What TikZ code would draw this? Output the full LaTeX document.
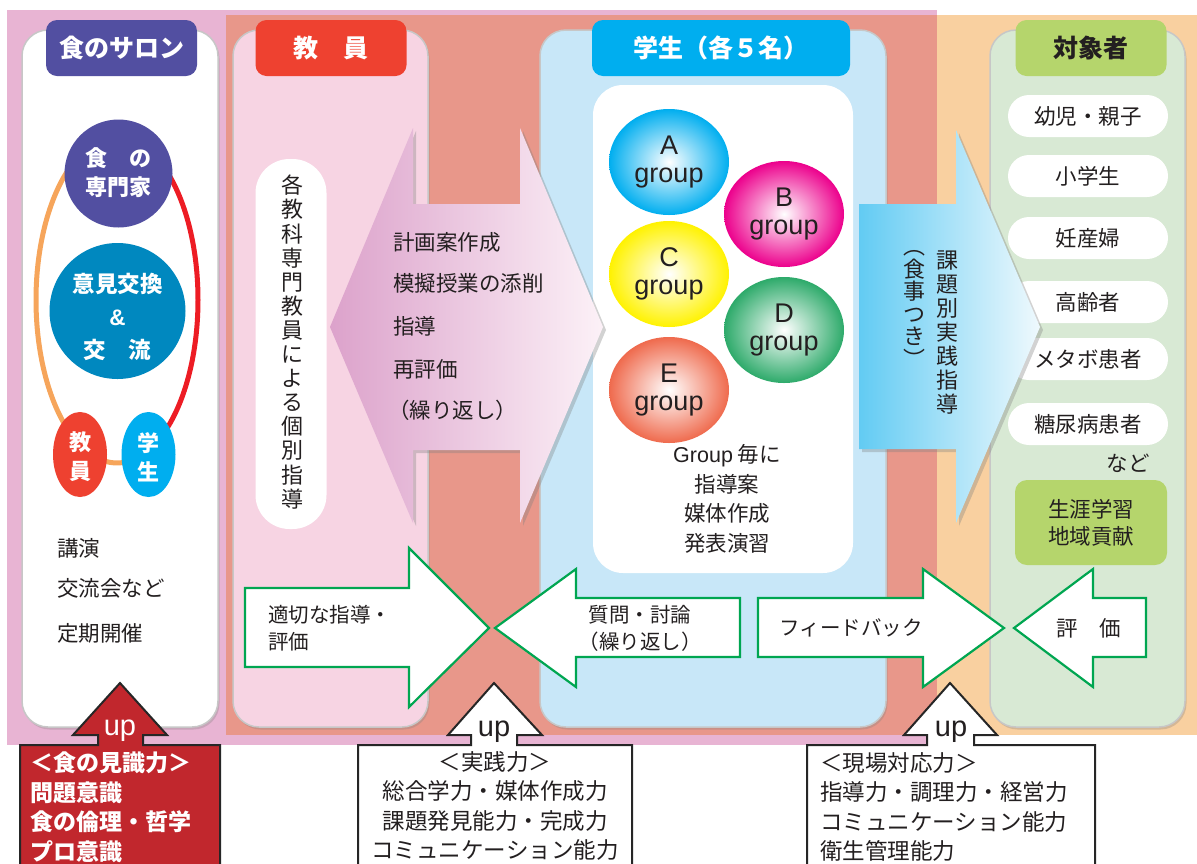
\documentclass[tikz,border=0pt]{standalone}
\usepackage{fontspec}
\setmainfont{Noto Sans CJK JP}
\newfontfamily\latf{Liberation Sans}
\usetikzlibrary{shadows,shapes.geometric}
\definecolor{pinkbg}{HTML}{E8B4D3}
\definecolor{salmon}{HTML}{E8978A}
\definecolor{peach}{HTML}{F9D0A0}
\definecolor{kyoinp}{HTML}{F7D4E3}
\definecolor{gakup}{HTML}{C8E7F8}
\definecolor{taishop}{HTML}{D8E9D4}
\definecolor{salonh}{HTML}{524FA1}
\definecolor{kyoinh}{HTML}{EE4130}
\definecolor{gakuh}{HTML}{00AEEF}
\definecolor{taishoh}{HTML}{B5D56C}
\definecolor{ikenc}{HTML}{0088BF}
\definecolor{orangel}{HTML}{F6A55B}
\definecolor{redl}{HTML}{ED1C24}
\definecolor{grpA}{HTML}{00AEEF}
\definecolor{grpB}{HTML}{EC008C}
\definecolor{grpC}{HTML}{FFF200}
\definecolor{grpD}{HTML}{2DAA6A}
\definecolor{grpE}{HTML}{EF6A4D}
\definecolor{greenl}{HTML}{00A651}
\definecolor{redbox}{HTML}{C1272D}
\definecolor{txt}{HTML}{231F20}
\definecolor{pinkL}{HTML}{DCA2CB}
\definecolor{pinkR}{HTML}{FCF1F7}
\definecolor{blueL}{HTML}{62CBF3}
\definecolor{blueR}{HTML}{EFF9FD}
\begin{document}
\begin{tikzpicture}[x=1pt,y=-1pt,
  panel/.style={rounded corners=26pt, draw=black!22, line width=1.5pt,
    drop shadow={shadow xshift=1.5pt, shadow yshift=-2.5pt, opacity=0.3}, inner sep=0pt},
  hdr/.style={rounded corners=11pt, inner sep=0pt, text=white,
    font=\fontsize{25}{28}\selectfont\bfseries},
  jt/.style={font=\fontsize{21.5}{24}\selectfont, text=txt, inner sep=0pt},
  wt/.style={font=\fontsize{22}{29}\selectfont\bfseries, text=white, inner sep=0pt, align=center},
  pill/.style={rounded corners=21pt, fill=white, minimum width=160pt, minimum height=42pt,
    inner sep=0pt, font=\fontsize{21.5}{24}\selectfont, text=txt},
  grp/.style={ellipse, minimum width=120pt, minimum height=106pt, inner sep=0pt,
    font=\latf\fontsize{27}{28.5}\selectfont, text=txt, align=center, shading=radial, inner color=white},
  garrow/.style={draw=greenl, line width=2.2pt, fill=white},
  ashadow/.style={drop shadow={shadow xshift=3pt, shadow yshift=-3pt, opacity=0.35}},
  upbox/.style={line width=2pt, draw=black!85},
  uptxt/.style={font=\latf\fontsize{29}{29}\selectfont, inner sep=0pt, anchor=base},
  bt/.style={font=\fontsize{22.5}{29.5}\selectfont, inner sep=0pt}
]
\useasboundingbox (0,0) rectangle (1197,863);
\clip (0,0) rectangle (1197,863);

% backgrounds
\fill[pinkbg] (7,10) rectangle (937,745);
\fill[salmon] (226,15) rectangle (937,735);
\fill[peach] (937,15) rectangle (1197,735);

% panels
\node[panel, fill=white, minimum width=196pt, minimum height=697pt] (p1) at (120,378.5) {};
\node[panel, fill=kyoinp, minimum width=195pt, minimum height=697pt] (p2) at (330.5,378.5) {};
\node[panel, fill=gakup, minimum width=346pt, minimum height=697pt] (p3) at (713,378.5) {};
\node[panel, fill=taishop, minimum width=195pt, minimum height=697pt] (p4) at (1087.5,378.5) {};

% headers
\node[hdr, fill=salonh, minimum width=151pt, minimum height=56pt] (h1) at (121.5,48) {食のサロン};
\node[hdr, fill=kyoinh, minimum width=151pt, minimum height=56pt] (h2) at (331,48) {教\hspace{1em}員};
\node[hdr, fill=gakuh, minimum width=258pt, minimum height=56pt] (h3) at (721,48) {学生（各５名）};
\node[hdr, fill=taishoh, minimum width=151pt, minimum height=56pt, text=txt] (h4) at (1091,48) {対象者};

% salon contents
\draw[redl, line width=5pt] (117,137) arc[start angle=-90, end angle=60, x radius=81, y radius=163];
\draw[orangel, line width=5pt] (117,137) arc[start angle=270, end angle=70, x radius=81, y radius=163];
\node[circle, fill=salonh, minimum size=108pt, inner sep=0pt] (c1) at (118.5,173.5) {};
\node[wt] (c1t) at (118.5,173) {食\hspace{1em}の\\専門家};
\node[circle, fill=ikenc, minimum size=136pt, inner sep=0pt] (c2) at (117.5,311) {};
\node[wt, font=\fontsize{22.5}{33}\selectfont\bfseries] (c2t) at (117.5,317) {意見交換\\{\latf\bfseries\&}\\交\hspace{1em}流};
\node[ellipse, fill=kyoinh, minimum width=54pt, minimum height=85pt, inner sep=0pt] (e1) at (80,454.5) {};
\node[wt] (e1t) at (80,457) {教\\員};
\node[ellipse, fill=gakuh, minimum width=54pt, minimum height=85pt, inner sep=0pt] (e2) at (148.5,454.5) {};
\node[wt] (e2t) at (148.5,457) {学\\生};
\node[jt, anchor=west] (s1) at (57,548) {講演};
\node[jt, anchor=west] (s2) at (57,588) {交流会など};
\node[jt, anchor=west] (s3) at (57,633) {定期開催};

% kyoin vertical box
\node[fill=white, rounded corners=34pt, minimum width=71pt, minimum height=370pt, inner sep=0pt] (vb) at (291,344) {};
\node[jt, align=center, font=\fontsize{22}{24.1}\selectfont] (vbt) at (292,342) {各\\教\\科\\専\\門\\教\\員\\に\\よ\\る\\個\\別\\指\\導};

% gakusei inner box
\node[fill=white, rounded corners=30pt, minimum width=260pt, minimum height=488pt, inner sep=0pt] (ib) at (723,329) {};

% pink double arrow
\path[ashadow, left color=pinkL, right color=pinkR] (330,327) -- (413,128) -- (413,204) -- (520,204) -- (520,128) -- (603,327) -- (520,523) -- (520,450) -- (413,450) -- (413,523) -- cycle;
\node[jt, anchor=west] (k1) at (393,242) {計画案作成};
\node[jt, anchor=west] (k2) at (393,283) {模擬授業の添削};
\node[jt, anchor=west] (k3) at (393,326) {指導};
\node[jt, anchor=west] (k4) at (393,369) {再評価};
\node[jt, anchor=west] (k5) at (388,410) {（繰り返し）};

% groups
\node[grp, outer color=grpA] (gA) at (669,162) {A\\group};
\node[grp, outer color=grpB] (gB) at (784,214) {B\\group};
\node[grp, outer color=grpC] (gC) at (669,274) {C\\group};
\node[grp, outer color=grpD] (gD) at (784,330) {D\\group};
\node[grp, outer color=grpE] (gE) at (669,390) {E\\group};
\node[jt, align=center, font=\fontsize{21.5}{29.5}\selectfont] (gt) at (727,499) {{\latf Group} 毎に\\指導案\\媒体作成\\発表演習};

% taisho contents
\node[pill] (q1) at (1088,116) {幼児・親子};
\node[pill] (q2) at (1088,176) {小学生};
\node[pill] (q3) at (1088,238) {妊産婦};
\node[pill] (q4) at (1088,302) {高齢者};
\node[pill] (q5) at (1088,359) {メタボ患者};
\node[pill] (q6) at (1088,424) {糖尿病患者};
\node[jt] (q7) at (1128,463) {など};
\node[fill=taishoh, rounded corners=12pt, minimum width=152pt, minimum height=85pt, inner sep=0pt,
  jt, align=center, font=\fontsize{21.5}{27}\selectfont] (q8) at (1091,522.5) {生涯学習\\地域貢献};

% blue arrow
\path[ashadow, left color=blueL, right color=blueR] (859,204) -- (956,204) -- (956,130) -- (1040,327) -- (956,523) -- (956,449) -- (859,449) -- cycle;
\node[jt, align=center, font=\fontsize{22}{24}\selectfont] (ba1) at (947,333) {課\\題\\別\\実\\践\\指\\導};
\node[jt, align=center, font=\fontsize{22}{22.5}\selectfont] (ba2) at (914,309) {︵\\食\\事\\つ\\き\\︶};

% green arrows
\draw[garrow] (245,588) -- (409,588) -- (409,548) -- (489,628) -- (409,707) -- (409,667) -- (245,667) -- cycle;
\node[jt, align=left, anchor=west, font=\fontsize{20.5}{27}\selectfont] (a1t) at (268,628) {適切な指導・\\評価};
\draw[garrow] (495,628) -- (576,569) -- (576,598) -- (740,598) -- (740,657) -- (576,657) -- (576,687) -- cycle;
\node[jt, align=center, font=\fontsize{20.5}{27}\selectfont] (a2t) at (640,628) {質問・討論\\（繰り返し）};
\draw[garrow] (758,598) -- (923,598) -- (923,569) -- (1004,628) -- (923,687) -- (923,657) -- (758,657) -- cycle;
\node[jt, font=\fontsize{20.5}{27}\selectfont] (a3t) at (851,628) {フィードバック};
\draw[garrow] (1014,628) -- (1093,569) -- (1093,598) -- (1146,598) -- (1146,657) -- (1093,657) -- (1093,687) -- cycle;
\node[jt, font=\fontsize{21.5}{27}\selectfont] (a4t) at (1089,628) {評\hspace{1em}価};

% bottom boxes with up arrows
\draw[upbox, fill=redbox] (20,745) -- (98,745) -- (98,735) -- (73,735) -- (120,683) -- (167,735) -- (143,735) -- (143,745) -- (220,745) -- (220,870) -- (20,870) -- cycle;
\node[uptxt, text=white] (u1) at (120,735) {up};
\node[bt, text=white, font=\fontsize{23}{29.5}\selectfont\bfseries, align=left, anchor=west] (b1) at (30,807) {＜食の見識力＞\\問題意識\\食の倫理・哲学\\プロ意識};

\draw[upbox, fill=white] (358,745) -- (471,745) -- (471,735) -- (448,735) -- (494,683) -- (542,735) -- (517,735) -- (517,745) -- (632,745) -- (632,870) -- (358,870) -- cycle;
\node[uptxt, text=txt] (u2) at (494,736) {up};
\node[bt, text=txt, align=center] (b2) at (495,806) {＜実践力＞\\総合学力・媒体作成力\\課題発見能力・完成力\\コミュニケーション能力};

\draw[upbox, fill=white] (807,745) -- (927,745) -- (927,735) -- (904,735) -- (950,683) -- (997,735) -- (974,735) -- (974,745) -- (1095,745) -- (1095,870) -- (807,870) -- cycle;
\node[uptxt, text=txt] (u3) at (951,736) {up};
\node[bt, text=txt, align=left, anchor=west] (b3) at (820,807) {＜現場対応力＞\\指導力・調理力・経営力\\コミュニケーション能力\\衛生管理能力};
\end{tikzpicture}
\end{document}
